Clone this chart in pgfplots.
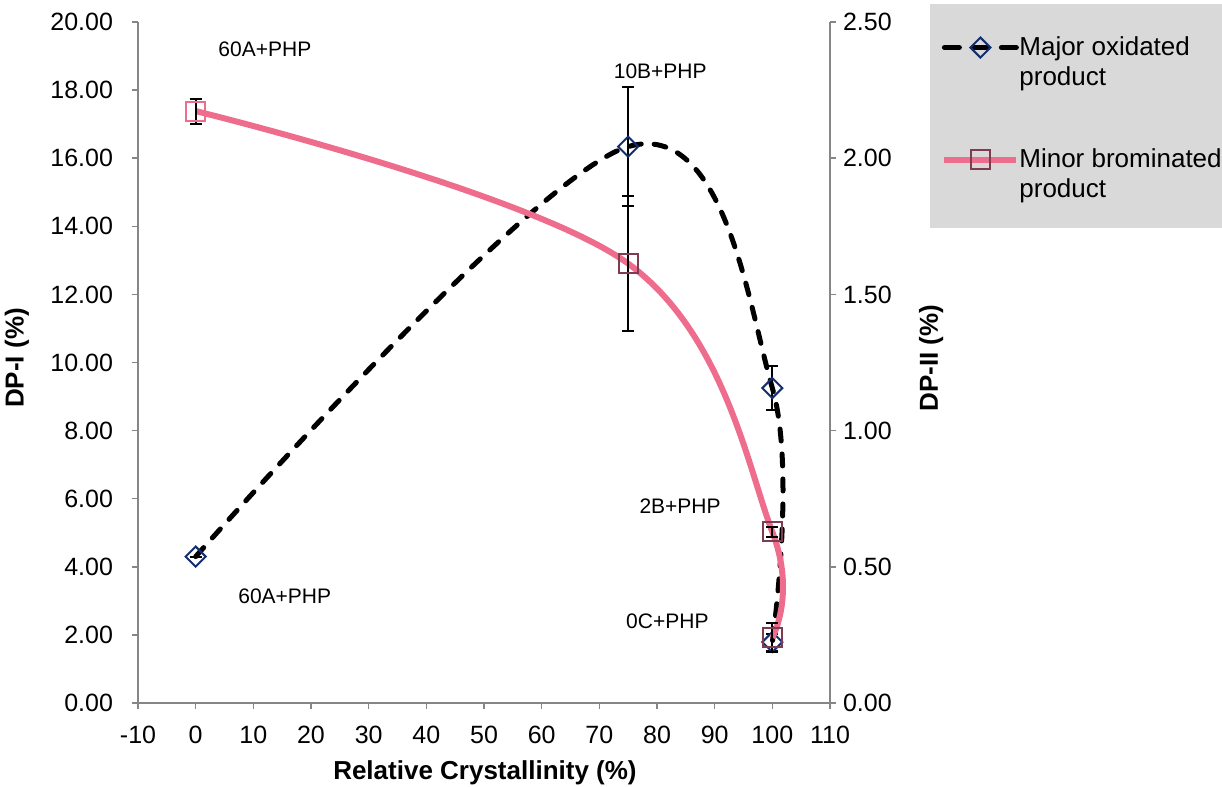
\documentclass[border=0pt]{standalone}
\usepackage{pgfplots}
\pgfplotsset{compat=1.18}
\usepackage{fontspec}
\setmainfont{Liberation Sans}
\definecolor{axgray}{RGB}{134,134,134}
\definecolor{navy}{RGB}{20,45,110}
\definecolor{pinkc}{RGB}{238,108,140}
\definecolor{maroon}{RGB}{125,60,80}
\definecolor{leggray}{RGB}{217,217,217}
\pgfplotsset{
  base/.style={
    at={(69pt,42pt)}, anchor=south west,
    scale only axis, width=346pt, height=340.5pt,
    xmin=-10, xmax=110,
    axis line style={axgray, line width=0.75pt, -},
    tick align=outside, major tick length=3pt,
    tick style={axgray, line width=0.75pt},
    minor tick num=0,
    /pgf/number format/assume math mode=true,
    ticklabel style={font=\fontsize{12.5}{14}\selectfont},
    scaled ticks=false,
    clip=false,
  },
  errsty/.style={error bars/.cd, y dir=both, y explicit,
    error bar style={black, line width=1pt, solid},
    error mark options={rotate=90, mark size=3pt, line width=1pt, black, solid}},
}
\begin{document}
\begin{tikzpicture}
\clip (0,0) rectangle (611pt,393.5pt);
\fill[leggray] (465pt,279.5pt) rectangle (620pt,391.5pt);
\begin{axis}[base,
  ymin=0, ymax=20,
  axis x line*=bottom, axis y line*=left,
  xtick={-10,0,...,110}, ytick={0,2,...,20},
  yticklabel style={xshift=-6pt, /pgf/number format/.cd, fixed, fixed zerofill, precision=2},
  xticklabel style={yshift=-5pt},
  xlabel={Relative Crystallinity (\%)},
  ylabel={DP-I (\%)},
  every axis x label/.style={at={(axis description cs:0.5014,-0.1028)}, anchor=center,
    font=\bfseries\fontsize{13}{15}\selectfont},
  every axis y label/.style={at={(axis description cs:-0.1749,0.5066)}, rotate=90, anchor=center,
    font=\bfseries\fontsize{13}{15}\selectfont},
]
\addplot[black, line width=2.5pt, line cap=round, dash pattern=on 6pt off 6.5pt, smooth, tension=0.6,
  mark=square, mark size=3.54pt, mark options={rotate=45, solid, draw=navy, line width=1pt, fill=none},
  errsty]
 coordinates {(0,4.30) +- (0,0) (75,16.34) +- (0,1.75) (100,9.25) +- (0,0.65) (100,1.79) +- (0,0.25)};
\node[font=\fontsize{10.5}{12}\selectfont] at (axis cs:12.0,19.21) {60A+PHP};
\node[font=\fontsize{10.5}{12}\selectfont] at (axis cs:15.45,3.14) {60A+PHP};
\node[font=\fontsize{10.5}{12}\selectfont] at (axis cs:80.56,18.56) {10B+PHP};
\node[font=\fontsize{10.5}{12}\selectfont] at (axis cs:84.0,5.79) {2B+PHP};
\node[font=\fontsize{10.5}{12}\selectfont] at (axis cs:81.8,2.41) {0C+PHP};
\end{axis}
\begin{axis}[base,
  ymin=0, ymax=2.5,
  axis y line*=right, axis x line=none,
  ytick={0,0.5,...,2.5},
  yticklabel style={/pgf/number format/.cd, fixed, fixed zerofill, precision=2},
  ylabel={DP-II (\%)},
  every axis y label/.style={at={(axis description cs:1.146,0.5066)}, rotate=90, anchor=center,
    font=\bfseries\fontsize{13}{15}\selectfont},
  legend image code/.code={\draw[mark repeat=2, mark phase=2, #1] plot coordinates {(0pt,0pt) (18pt,0pt) (36pt,0pt)};},
  legend style={at={(axis description cs:1.1416,1.0264)}, anchor=north west, fill=none, draw=none,
    inner xsep=6.5pt, inner ysep=16.1pt, row sep=45.25pt,
    font=\fontsize{13}{15}\selectfont,
    nodes={inner sep=0pt}},
  legend cell align=left,
]
\addlegendimage{black, line width=2.5pt, line cap=round, dash pattern=on 7.5pt off 6.75pt,
  mark=square, mark size=3.54pt, mark options={rotate=45, solid, draw=navy, line width=1pt, fill=none}}
\addlegendentry{\parbox[t]{160pt}{\fontsize{13}{15}\selectfont Major oxidated\\product}}
\addlegendimage{pinkc, line width=3pt, mark=square, mark size=4.75pt, mark options={draw=maroon, line width=1pt, fill=none}}
\addlegendentry{\parbox[t]{160pt}{\fontsize{13}{15}\selectfont Minor brominated\\product}}
\addplot[pinkc, line width=3pt, smooth, tension=0.6, forget plot,
  scatter, point meta=explicit symbolic,
  scatter/classes={a={mark=square, draw=pinkc}, b={mark=square, draw=maroon}},
  mark size=4.75pt, mark options={line width=1pt, fill=none},
  errsty]
  table[meta=c, y error=e] {
  x y e c
  0 2.173 0.046 a
  75 1.613 0.247 b
  100 0.628 0.018 b
  100 0.240 0.054 b
  };
\end{axis}
\end{tikzpicture}
\end{document}
